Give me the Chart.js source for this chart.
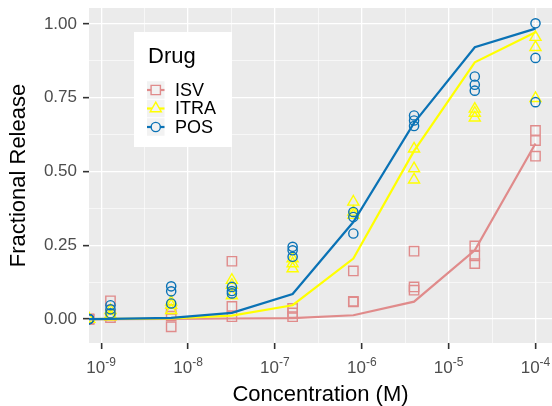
<!DOCTYPE html>
<html>
<head>
<meta charset="utf-8">
<script src="https://cdn.jsdelivr.net/npm/chart.js@4.4.0/dist/chart.umd.min.js"></script>
<style>
  html, body { margin: 0; padding: 0; background: #ffffff; }
</style>
</head>
<body>
<canvas id="myChart" width="552" height="406"></canvas>
<script>
// Concentration (M); 0 = no drug, drawn at the left panel edge like ggplot's -Inf
const concentrations = [0, 1.28e-9, 6.4e-9, 3.2e-8, 1.6e-7, 8e-7, 4e-6, 2e-5, 1e-4];

// replicate measurements, one row per concentration
const isvReplicates = [
  [0, 0, 0], [0.062, 0.015, 0.005], [0.033, 0.010, -0.026], [0.196, 0.043, 0.008],
  [0.036, 0.021, 0.008], [0.163, 0.060, 0.058], [0.230, 0.109, 0.098],
  [0.248, 0.214, 0.188], [0.639, 0.605, 0.552]
];
const itraReplicates = [
  [0, 0, 0], [0.030, 0.015, 0.008], [0.058, 0.047, 0.030], [0.132, 0.115, 0.080],
  [0.205, 0.188, 0.171], [0.397, 0.363, 0.352], [0.577, 0.510, 0.472],
  [0.712, 0.698, 0.682], [0.955, 0.921, 0.748]
];
const posReplicates = [
  [0, 0, 0], [0.047, 0.033, 0.020], [0.111, 0.094, 0.053], [0.109, 0.095, 0.087],
  [0.245, 0.233, 0.211], [0.363, 0.346, 0.290], [0.690, 0.673, 0.654],
  [0.822, 0.794, 0.774], [1.002, 0.885, 0.735]
];

// fitted curves
const isvFit  = [0, 0, 0.001, 0.002, 0.003, 0.013, 0.059, 0.233, 0.595];
const itraFit = [0, 0.001, 0.002, 0.012, 0.047, 0.205, 0.570, 0.870, 0.972];
const posFit  = [0, 0.001, 0.004, 0.021, 0.085, 0.329, 0.665, 0.921, 0.984];

const drugNames = ['ISV', 'ITRA', 'POS'];
const drugColors = ['#E08B8B', '#FFFF00', '#0A72B5'];
const drugShapes = ['rect', 'triangle', 'circle'];
const drugRadius = [6.6, 6.4, 4.6];

const xTickExponents = [-9, -8, -7, -6, -5, -4];
const yTickLabels = ['0.00', '0.25', '0.50', '0.75', '1.00'];

const X_MIN = Math.pow(10, -9.14);
const X_MAX = Math.pow(10, -3.81);

function xOf(c) {
  return c === 0 ? X_MIN : c;
}

function pointsOf(reps) {
  const out = [];
  reps.forEach((row, i) => {
    row.forEach(v => out.push({ x: xOf(concentrations[i]), y: v }));
  });
  return out;
}

function lineOf(fit) {
  return fit.map((v, i) => ({ x: xOf(concentrations[i]), y: v }));
}

const fits = [isvFit, itraFit, posFit];
const reps = [isvReplicates, itraReplicates, posReplicates];

// lines first so they sit on top; POS drawn above ITRA above ISV
const datasets = [];
[2, 1, 0].forEach(d => {
  datasets.push({
    label: drugNames[d] + ' fit',
    data: lineOf(fits[d]),
    showLine: true,
    borderColor: drugColors[d],
    borderWidth: 2.2,
    pointRadius: 0,
    tension: 0
  });
});
[2, 1, 0].forEach(d => {
  datasets.push({
    label: drugNames[d],
    data: pointsOf(reps[d]),
    showLine: false,
    pointStyle: drugShapes[d],
    pointRadius: drugRadius[d],
    pointBorderColor: drugColors[d],
    pointBackgroundColor: 'rgba(0,0,0,0)',
    pointBorderWidth: 1.4,
    clip: 0
  });
});

function isDecade(v) {
  const l = Math.log10(v);
  return Math.abs(l - Math.round(l)) < 1e-6;
}
function isQuarter(v) {
  return Math.abs(v * 4 - Math.round(v * 4)) < 1e-6;
}

const FONT = '"Liberation Sans", Arial, sans-serif';

const panelPlugin = {
  id: 'panel',
  beforeDraw(chart) {
    const { ctx, chartArea } = chart;
    ctx.save();
    ctx.fillStyle = '#EBEBEB';
    ctx.fillRect(chartArea.left, chartArea.top, chartArea.right - chartArea.left, chartArea.bottom - chartArea.top);
    ctx.restore();
  },
  afterDraw(chart) {
    const ctx = chart.ctx;
    const xs = chart.scales.x;
    ctx.save();
    // x tick labels 10^n
    xTickExponents.forEach(e => {
      const px = xs.getPixelForValue(Math.pow(10, e));
      ctx.font = '17px ' + FONT;
      const base = '10';
      const wBase = ctx.measureText(base).width;
      ctx.font = '12px ' + FONT;
      const sup = String(e);
      const wSup = ctx.measureText(sup).width;
      const x0 = px - (wBase + wSup) / 2;
      ctx.fillStyle = '#4D4D4D';
      ctx.textBaseline = 'alphabetic';
      ctx.textAlign = 'left';
      ctx.font = '17px ' + FONT;
      ctx.fillText(base, x0, 373);
      ctx.font = '12px ' + FONT;
      ctx.fillText(sup, x0 + wBase, 365.5);
    });

    // legend
    const lx = 134, ly = 32, lw = 98, lh = 115;
    ctx.fillStyle = '#FFFFFF';
    ctx.fillRect(lx, ly, lw, lh);
    ctx.fillStyle = '#000000';
    ctx.font = '22px ' + FONT;
    ctx.fillText('Drug', 148, 63);
    const keyCenters = [90, 108.5, 127];
    drugNames.forEach((name, d) => {
      const cy = keyCenters[d];
      const kx = 147, ks = 17.5;
      ctx.fillStyle = '#F2F2F2';
      ctx.fillRect(kx, cy - ks / 2, ks, ks);
      ctx.strokeStyle = drugColors[d];
      ctx.lineWidth = 2.2;
      ctx.beginPath();
      ctx.moveTo(kx, cy);
      ctx.lineTo(kx + ks, cy);
      ctx.stroke();
      ctx.lineWidth = 1.4;
      Chart.helpers.drawPoint(ctx, {
        pointStyle: drugShapes[d],
        radius: drugRadius[d],
        rotation: 0,
        borderWidth: 1.4
      }, kx + ks / 2, cy);
      ctx.fillStyle = '#000000';
      ctx.font = '18px ' + FONT;
      ctx.textBaseline = 'middle';
      ctx.fillText(name, 175, cy + 1);
      ctx.textBaseline = 'alphabetic';
    });
    ctx.restore();
  }
};

const ctx1 = document.getElementById('myChart').getContext('2d');

const chart1 = new Chart(ctx1, {
  type: 'scatter',
  data: { datasets: datasets },
  plugins: [panelPlugin],
  options: {
    responsive: false,
    animation: false,
    layout: { autoPadding: false, padding: { top: 8, right: 0, bottom: 0, left: 0 } },
    plugins: {
      legend: { display: false },
      tooltip: { enabled: false }
    },
    scales: {
      x: {
        type: 'logarithmic',
        min: X_MIN,
        max: X_MAX,
        bounds: 'data',
        afterBuildTicks: scale => {
          const t = [];
          for (let e = -9; e <= -4; e += 0.5) t.push({ value: Math.pow(10, e) });
          scale.ticks = t;
        },
        afterFit: scale => {
          scale.height = 63;
          scale.paddingLeft = 0;
          scale.paddingRight = 0;
        },
        ticks: {
          autoSkip: false,
          maxRotation: 0,
          callback: () => ''
        },
        grid: {
          color: '#FFFFFF',
          lineWidth: c => isDecade(c.tick.value) ? 1.3 : 0.6,
          drawTicks: true,
          tickLength: 6,
          tickWidth: 1.6,
          tickColor: c => isDecade(c.tick.value) ? '#333333' : 'rgba(0,0,0,0)'
        },
        border: { display: false },
        title: {
          display: true,
          text: 'Concentration (M)',
          color: '#000000',
          font: { family: FONT, size: 22, lineHeight: 1.0 },
          padding: { top: 0, bottom: 0 }
        }
      },
      y: {
        type: 'linear',
        min: -0.081,
        max: 1.054,
        afterBuildTicks: scale => {
          const t = [];
          for (let i = 0; i <= 8; i++) t.push({ value: i * 0.125 });
          scale.ticks = t;
        },
        afterFit: scale => {
          scale.width = 89;
          scale.paddingTop = 0;
          scale.paddingBottom = 0;
        },
        ticks: {
          autoSkip: false,
          color: '#4D4D4D',
          padding: 6,
          font: { family: FONT, size: 17 },
          callback: v => isQuarter(v) ? yTickLabels[Math.round(v * 4)] : ''
        },
        grid: {
          color: '#FFFFFF',
          lineWidth: c => isQuarter(c.tick.value) ? 1.3 : 0.6,
          drawTicks: true,
          tickLength: 6,
          tickWidth: 1.6,
          tickColor: c => isQuarter(c.tick.value) ? '#333333' : 'rgba(0,0,0,0)'
        },
        border: { display: false },
        title: {
          display: true,
          text: 'Fractional Release',
          color: '#000000',
          font: { family: FONT, size: 22, lineHeight: 1.1 },
          padding: { top: 7, bottom: 0 }
        }
      }
    }
  }
});
</script>
</body>
</html>
